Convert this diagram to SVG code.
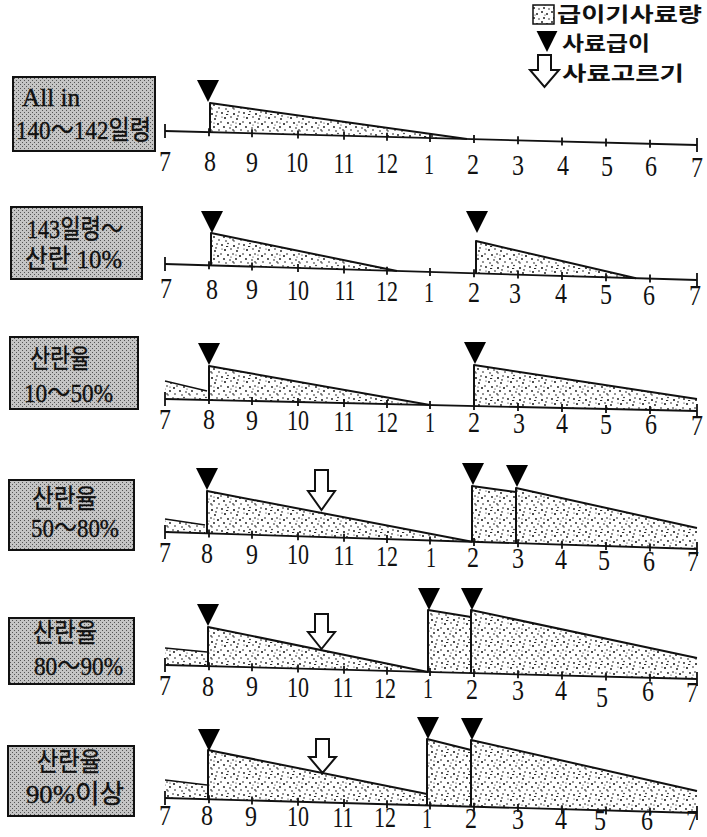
<svg xmlns="http://www.w3.org/2000/svg" width="707" height="837" viewBox="0 0 707 837">
<defs>
<pattern id="stip" width="22" height="22" patternUnits="userSpaceOnUse">
<rect width="22" height="22" fill="#fff"/>
<g fill="#111">
<circle cx="2" cy="3" r="0.9"/><circle cx="8" cy="1.5" r="0.8"/><circle cx="14" cy="4" r="1"/><circle cx="19" cy="2" r="0.8"/>
<circle cx="5" cy="8" r="1"/><circle cx="11" cy="7" r="0.8"/><circle cx="17" cy="9" r="0.9"/><circle cx="1" cy="12" r="0.8"/>
<circle cx="8" cy="13" r="0.9"/><circle cx="13" cy="12" r="0.8"/><circle cx="20" cy="14" r="1"/><circle cx="4" cy="17" r="0.9"/>
<circle cx="10" cy="18" r="0.8"/><circle cx="16" cy="17" r="0.9"/><circle cx="21" cy="20" r="0.8"/><circle cx="6" cy="21" r="0.8"/>
<circle cx="14" cy="21" r="0.7"/><circle cx="2" cy="7" r="0.6"/><circle cx="16" cy="13" r="0.6"/><circle cx="11" cy="15" r="0.6"/>
<rect x="6" y="4" width="2.2" height="0.9"/><rect x="17" y="5.5" width="2" height="0.9"/><rect x="12" y="19.5" width="2" height="0.9"/>
</g>
</pattern>
<pattern id="stipD" width="10" height="10" patternUnits="userSpaceOnUse">
<rect width="10" height="10" fill="#fff"/>
<g fill="#222"><circle cx="2" cy="2" r="1"/><circle cx="7" cy="4" r="1"/><circle cx="4" cy="8" r="1"/><circle cx="9" cy="9" r="0.8"/><circle cx="5" cy="5" r="0.6"/></g>
</pattern>
<pattern id="half" width="4" height="4" patternUnits="userSpaceOnUse">
<rect width="4" height="4" fill="#c4c4c4"/>
<rect x="0" y="0" width="1" height="1" fill="#555"/><rect x="2" y="2" width="1" height="1" fill="#555"/>
</pattern>
<polygon id="tri" points="-11,0 11,0 0,22" fill="#000"/>
</defs>
<style>
.box{fill:url(#half);stroke:#111;stroke-width:2}
.bt{font-family:"Liberation Serif","Noto Sans CJK KR",serif;font-size:26px;fill:#111;stroke:#111;stroke-width:0.4}
.n{font-family:"Liberation Serif",serif;font-size:30px;fill:#111;text-anchor:middle}
.lg{font-family:"Noto Sans CJK KR","Noto Sans",sans-serif;font-size:20px;font-weight:bold;fill:#111}
.ax{stroke:#111;stroke-width:1.8;fill:none}
.tk{stroke:#111;stroke-width:1.8}
.fl{fill:url(#stip);stroke:none}
.ol{fill:none;stroke:#111;stroke-width:2;stroke-linejoin:round}
.ol1{fill:none;stroke:#111;stroke-width:1.4}
.arr{fill:#fff;stroke:#111;stroke-width:2;stroke-linejoin:miter}
</style>

<g id="legend">
<rect x="533" y="5" width="21" height="19" fill="url(#stipD)" stroke="#111" stroke-width="1.5"/>
<text class="lg" x="557" y="22" textLength="145" lengthAdjust="spacingAndGlyphs">급이기사료량</text>
<use href="#tri" transform="translate(547,31) scale(0.95)"/>
<text class="lg" x="562" y="51" textLength="88" lengthAdjust="spacingAndGlyphs">사료급이</text>
<path class="arr" d="M538,55 H551 V70 H559 L544.5,87 L530,70 H538 Z"/>
<text class="lg" x="562" y="81" textLength="122" lengthAdjust="spacingAndGlyphs">사료고르기</text>
</g>

<!-- Row 1 -->
<g id="label1">
<rect class="box" x="13" y="77" width="142" height="74"/>
<text class="bt" x="22" y="106" textLength="58" lengthAdjust="spacingAndGlyphs">All in</text>
<text class="bt" x="16" y="139" textLength="135" lengthAdjust="spacingAndGlyphs">140～142일령</text>
</g>
<g id="chart1">
<polygon class="fl" points="210,132.2 210,103 467,139"/>
<polyline class="ol" points="210,132.2 210,103 467,139"/>
<use href="#tri" transform="translate(208,80)"/>
</g>

<!-- Row 2 -->
<g id="label2">
<rect class="box" x="11" y="207" width="131" height="72"/>
<text class="bt" x="27" y="238" textLength="96" lengthAdjust="spacingAndGlyphs">143일령～</text>
<text class="bt" x="25" y="268" textLength="97" lengthAdjust="spacingAndGlyphs">산란 10%</text>
</g>
<g id="chart2">
<polygon class="fl" points="211,265.4 211,233 397,271"/>
<polyline class="ol" points="211,265.4 211,233 397,271"/>
<polygon class="fl" points="476,273.4 476,241 636,278.2"/>
<polyline class="ol" points="476,273.4 476,241 636,278.2"/>
<use href="#tri" transform="translate(212,211)"/>
<use href="#tri" transform="translate(477,211)"/>
</g>

<!-- Row 3 -->
<g id="label3">
<rect class="box" x="10" y="337" width="128" height="72"/>
<text class="bt" x="30" y="368" textLength="60" lengthAdjust="spacingAndGlyphs">산란율</text>
<text class="bt" x="24" y="402" textLength="89" lengthAdjust="spacingAndGlyphs">10～50%</text>
</g>
<g id="chart3">
<polygon class="fl" points="165,399 165,381 207,391 207,400"/>
<polyline class="ol1" points="165,381 207,391"/>
<polygon class="fl" points="209,400 209,366 430,405"/>
<polyline class="ol" points="209,400 209,366 430,405"/>
<polygon class="fl" points="474,406 474,365 697,399 697,411"/>
<polyline class="ol" points="474,406 474,365 697,399"/>
<use href="#tri" transform="translate(209,343)"/>
<use href="#tri" transform="translate(475,342)"/>
</g>

<!-- Row 4 -->
<g id="label4">
<rect class="box" x="9" y="480" width="125" height="70"/>
<text class="bt" x="32" y="508" textLength="65" lengthAdjust="spacingAndGlyphs">산란율</text>
<text class="bt" x="31" y="537" textLength="88" lengthAdjust="spacingAndGlyphs">50～80%</text>
</g>
<g id="chart4">
<polygon class="fl" points="165,532 165,519 205,525 205,533.3"/>
<polyline class="ol1" points="165,519 205,525"/>
<polygon class="fl" points="207,533.3 207,491 472,541.8"/>
<polygon class="fl" points="472,541.8 472,486 516,492 516,543.2"/>
<polygon class="fl" points="516,543.2 516,488 697,528 697,549"/>
<polyline class="ol" points="207,533.3 207,491 472,541.8"/>
<polyline class="ol" points="472,541.8 472,486 516,492"/>
<polyline class="ol" points="516,543.2 516,488 697,528"/>
<use href="#tri" transform="translate(207,468)"/>
<use href="#tri" transform="translate(473,463)"/>
<use href="#tri" transform="translate(517,465)"/>
<path class="arr" d="M315,470 H328 V491 H335 L321.5,510 L308,491 H315 Z"/>
</g>

<!-- Row 5 -->
<g id="label5">
<rect class="box" x="9" y="618" width="125" height="66"/>
<text class="bt" x="33" y="642" textLength="64" lengthAdjust="spacingAndGlyphs">산란율</text>
<text class="bt" x="34" y="675" textLength="89" lengthAdjust="spacingAndGlyphs">80～90%</text>
</g>
<g id="chart5">
<polygon class="fl" points="165,665 165,648 207,652 207,666.1"/>
<polyline class="ol1" points="165,648 207,652"/>
<polygon class="fl" points="208,666.1 208,627 428,671.9"/>
<polygon class="fl" points="428,671.9 428,610 471,617 471,673"/>
<polygon class="fl" points="471,673 471,610 697,658 697,679"/>
<polyline class="ol" points="208,666.1 208,627 428,671.9"/>
<polyline class="ol" points="428,671.9 428,610 471,617"/>
<polyline class="ol" points="471,673 471,610 697,658"/>
<use href="#tri" transform="translate(208,604)"/>
<use href="#tri" transform="translate(429,588)"/>
<use href="#tri" transform="translate(472,588)"/>
<path class="arr" d="M315,614 H328 V632 H335 L321.5,649 L308,632 H315 Z"/>
</g>

<!-- Row 6 -->
<g id="label6">
<rect class="box" x="8" y="746" width="126" height="70"/>
<text class="bt" x="37" y="771" textLength="64" lengthAdjust="spacingAndGlyphs">산란율</text>
<text class="bt" x="26" y="803" textLength="98" lengthAdjust="spacingAndGlyphs">90%이상</text>
</g>
<g id="chart6">
<polygon class="fl" points="165,798 165,780 207,785 207,799.2"/>
<polyline class="ol1" points="165,780 207,785"/>
<polygon class="fl" points="208,799.2 208,750 427,794 427,805.4"/>
<polygon class="fl" points="427,805.4 427,739 471,750 471,806.6"/>
<polygon class="fl" points="471,806.6 471,740 697,791 697,813"/>
<polyline class="ol" points="208,799.2 208,750 427,794"/>
<polyline class="ol" points="427,805.4 427,739 471,750"/>
<polyline class="ol" points="471,806.6 471,740 697,791"/>
<use href="#tri" transform="translate(209,729)"/>
<use href="#tri" transform="translate(428,717)"/>
<use href="#tri" transform="translate(472,718)"/>
<path class="arr" d="M316,739 H329 V757 H336 L322.5,773 L309,757 H316 Z"/>
</g>

<g id="axes">
<line class="ax" x1="165" y1="131" x2="697" y2="145"/>
<line class="tk" x1="165" y1="124" x2="165" y2="138"/><line class="tk" x1="697" y1="138" x2="697" y2="152"/>
<path class="tk" d="M209,128.2v8 M252,129.3v8 M298,130.5v8 M344,131.7v8 M387,132.8v8 M430,134v8 M474,135.1v8 M518,136.3v8 M562,137.5v8 M606,138.6v8 M650,139.8v8"/>
<line class="ax" x1="165" y1="264" x2="697" y2="280"/>
<line class="tk" x1="165" y1="257" x2="165" y2="271"/><line class="tk" x1="697" y1="273" x2="697" y2="287"/>
<path class="tk" d="M209,261.3v8 M252,262.6v8 M298,264v8 M344,265.4v8 M387,266.7v8 M430,268v8 M474,269.3v8 M518,270.6v8 M562,271.9v8 M606,273.3v8 M650,274.6v8"/>
<line class="ax" x1="165" y1="399" x2="697" y2="411"/>
<line class="tk" x1="165" y1="392" x2="165" y2="406"/><line class="tk" x1="697" y1="404" x2="697" y2="418"/>
<path class="tk" d="M209,396v8 M252,397v8 M298,398v8 M344,399v8 M387,400v8 M430,401v8 M474,402v8 M518,403v8 M562,404v8 M606,405v8 M650,406v8"/>
<line class="ax" x1="165" y1="532" x2="697" y2="549"/>
<line class="tk" x1="165" y1="525" x2="165" y2="539"/><line class="tk" x1="697" y1="542" x2="697" y2="556"/>
<path class="tk" d="M209,529.4v8 M252,530.8v8 M298,532.3v8 M344,533.7v8 M387,535.1v8 M430,536.5v8 M474,537.9v8 M518,539.3v8 M562,540.7v8 M606,542.1v8 M650,543.5v8"/>
<line class="ax" x1="165" y1="665" x2="697" y2="679"/>
<line class="tk" x1="165" y1="658" x2="165" y2="672"/><line class="tk" x1="697" y1="672" x2="697" y2="686"/>
<path class="tk" d="M209,662.2v8 M252,663.3v8 M298,664.5v8 M344,665.7v8 M387,666.8v8 M430,668v8 M474,669.1v8 M518,670.3v8 M562,671.5v8 M606,672.6v8 M650,673.8v8"/>
<line class="ax" x1="165" y1="798" x2="697" y2="813"/>
<line class="tk" x1="165" y1="791" x2="165" y2="805"/><line class="tk" x1="697" y1="806" x2="697" y2="820"/>
<path class="tk" d="M209,795.2v8 M252,796.5v8 M298,797.8v8 M344,799.1v8 M387,800.3v8 M430,801.5v8 M474,802.7v8 M518,804v8 M562,805.2v8 M606,806.4v8 M650,807.7v8"/>
</g>

<g id="ticklabels">
<g>
<text class="n" x="165" y="171" textLength="12" lengthAdjust="spacingAndGlyphs">7</text>
<text class="n" x="210" y="171" textLength="12" lengthAdjust="spacingAndGlyphs">8</text>
<text class="n" x="252" y="172" textLength="12" lengthAdjust="spacingAndGlyphs">9</text>
<text class="n" x="297" y="172" textLength="22" lengthAdjust="spacingAndGlyphs">10</text>
<text class="n" x="344" y="173" textLength="21" lengthAdjust="spacingAndGlyphs">11</text>
<text class="n" x="387" y="173" textLength="22" lengthAdjust="spacingAndGlyphs">12</text>
<text class="n" x="429" y="174" textLength="10" lengthAdjust="spacingAndGlyphs">1</text>
<text class="n" x="473" y="174" textLength="12" lengthAdjust="spacingAndGlyphs">2</text>
<text class="n" x="518" y="175" textLength="12" lengthAdjust="spacingAndGlyphs">3</text>
<text class="n" x="563" y="175" textLength="12" lengthAdjust="spacingAndGlyphs">4</text>
<text class="n" x="607" y="176" textLength="12" lengthAdjust="spacingAndGlyphs">5</text>
<text class="n" x="651" y="176" textLength="12" lengthAdjust="spacingAndGlyphs">6</text>
<text class="n" x="697" y="177" textLength="12" lengthAdjust="spacingAndGlyphs">7</text>
</g>
<g>
<text class="n" x="166" y="298" textLength="12" lengthAdjust="spacingAndGlyphs">7</text>
<text class="n" x="212" y="299" textLength="12" lengthAdjust="spacingAndGlyphs">8</text>
<text class="n" x="252" y="299" textLength="12" lengthAdjust="spacingAndGlyphs">9</text>
<text class="n" x="298" y="300" textLength="22" lengthAdjust="spacingAndGlyphs">10</text>
<text class="n" x="345" y="300" textLength="21" lengthAdjust="spacingAndGlyphs">11</text>
<text class="n" x="387" y="301" textLength="22" lengthAdjust="spacingAndGlyphs">12</text>
<text class="n" x="429" y="302" textLength="10" lengthAdjust="spacingAndGlyphs">1</text>
<text class="n" x="474" y="302" textLength="12" lengthAdjust="spacingAndGlyphs">2</text>
<text class="n" x="515" y="303" textLength="12" lengthAdjust="spacingAndGlyphs">3</text>
<text class="n" x="561" y="303" textLength="12" lengthAdjust="spacingAndGlyphs">4</text>
<text class="n" x="606" y="304" textLength="12" lengthAdjust="spacingAndGlyphs">5</text>
<text class="n" x="649" y="305" textLength="12" lengthAdjust="spacingAndGlyphs">6</text>
<text class="n" x="695" y="305" textLength="12" lengthAdjust="spacingAndGlyphs">7</text>
</g>
<g>
<text class="n" x="165" y="429" textLength="12" lengthAdjust="spacingAndGlyphs">7</text>
<text class="n" x="209" y="429" textLength="12" lengthAdjust="spacingAndGlyphs">8</text>
<text class="n" x="252" y="430" textLength="12" lengthAdjust="spacingAndGlyphs">9</text>
<text class="n" x="298" y="430" textLength="22" lengthAdjust="spacingAndGlyphs">10</text>
<text class="n" x="344" y="431" textLength="21" lengthAdjust="spacingAndGlyphs">11</text>
<text class="n" x="387" y="432" textLength="22" lengthAdjust="spacingAndGlyphs">12</text>
<text class="n" x="430" y="432" textLength="10" lengthAdjust="spacingAndGlyphs">1</text>
<text class="n" x="474" y="432" textLength="12" lengthAdjust="spacingAndGlyphs">2</text>
<text class="n" x="519" y="433" textLength="12" lengthAdjust="spacingAndGlyphs">3</text>
<text class="n" x="562" y="433" textLength="12" lengthAdjust="spacingAndGlyphs">4</text>
<text class="n" x="606" y="434" textLength="12" lengthAdjust="spacingAndGlyphs">5</text>
<text class="n" x="651" y="434" textLength="12" lengthAdjust="spacingAndGlyphs">6</text>
<text class="n" x="697" y="435" textLength="12" lengthAdjust="spacingAndGlyphs">7</text>
</g>
<g>
<text class="n" x="165" y="562" textLength="12" lengthAdjust="spacingAndGlyphs">7</text>
<text class="n" x="207" y="563" textLength="12" lengthAdjust="spacingAndGlyphs">8</text>
<text class="n" x="252" y="564" textLength="12" lengthAdjust="spacingAndGlyphs">9</text>
<text class="n" x="298" y="564" textLength="22" lengthAdjust="spacingAndGlyphs">10</text>
<text class="n" x="344" y="565" textLength="21" lengthAdjust="spacingAndGlyphs">11</text>
<text class="n" x="387" y="566" textLength="22" lengthAdjust="spacingAndGlyphs">12</text>
<text class="n" x="431" y="567" textLength="10" lengthAdjust="spacingAndGlyphs">1</text>
<text class="n" x="473" y="567" textLength="12" lengthAdjust="spacingAndGlyphs">2</text>
<text class="n" x="518" y="568" textLength="12" lengthAdjust="spacingAndGlyphs">3</text>
<text class="n" x="561" y="569" textLength="12" lengthAdjust="spacingAndGlyphs">4</text>
<text class="n" x="604" y="570" textLength="12" lengthAdjust="spacingAndGlyphs">5</text>
<text class="n" x="649" y="571" textLength="12" lengthAdjust="spacingAndGlyphs">6</text>
<text class="n" x="693" y="571" textLength="12" lengthAdjust="spacingAndGlyphs">7</text>
</g>
<g>
<text class="n" x="165" y="695" textLength="12" lengthAdjust="spacingAndGlyphs">7</text>
<text class="n" x="208" y="696" textLength="12" lengthAdjust="spacingAndGlyphs">8</text>
<text class="n" x="252" y="696" textLength="12" lengthAdjust="spacingAndGlyphs">9</text>
<text class="n" x="298" y="697" textLength="22" lengthAdjust="spacingAndGlyphs">10</text>
<text class="n" x="343" y="697" textLength="21" lengthAdjust="spacingAndGlyphs">11</text>
<text class="n" x="385" y="698" textLength="22" lengthAdjust="spacingAndGlyphs">12</text>
<text class="n" x="428" y="698" textLength="10" lengthAdjust="spacingAndGlyphs">1</text>
<text class="n" x="472" y="699" textLength="12" lengthAdjust="spacingAndGlyphs">2</text>
<text class="n" x="518" y="700" textLength="12" lengthAdjust="spacingAndGlyphs">3</text>
<text class="n" x="561" y="700" textLength="12" lengthAdjust="spacingAndGlyphs">4</text>
<text class="n" x="602" y="707" textLength="12" lengthAdjust="spacingAndGlyphs">5</text>
<text class="n" x="648" y="701" textLength="12" lengthAdjust="spacingAndGlyphs">6</text>
<text class="n" x="692" y="702" textLength="12" lengthAdjust="spacingAndGlyphs">7</text>
</g>
<g>
<text class="n" x="165" y="825" textLength="12" lengthAdjust="spacingAndGlyphs">7</text>
<text class="n" x="207" y="825" textLength="12" lengthAdjust="spacingAndGlyphs">8</text>
<text class="n" x="251" y="826" textLength="12" lengthAdjust="spacingAndGlyphs">9</text>
<text class="n" x="298" y="826" textLength="22" lengthAdjust="spacingAndGlyphs">10</text>
<text class="n" x="343" y="827" textLength="21" lengthAdjust="spacingAndGlyphs">11</text>
<text class="n" x="385" y="827" textLength="22" lengthAdjust="spacingAndGlyphs">12</text>
<text class="n" x="427" y="828" textLength="10" lengthAdjust="spacingAndGlyphs">1</text>
<text class="n" x="471" y="828" textLength="12" lengthAdjust="spacingAndGlyphs">2</text>
<text class="n" x="518" y="829" textLength="12" lengthAdjust="spacingAndGlyphs">3</text>
<text class="n" x="561" y="829" textLength="12" lengthAdjust="spacingAndGlyphs">4</text>
<text class="n" x="600" y="830" textLength="12" lengthAdjust="spacingAndGlyphs">5</text>
<text class="n" x="647" y="830" textLength="12" lengthAdjust="spacingAndGlyphs">6</text>
<text class="n" x="692" y="830" textLength="12" lengthAdjust="spacingAndGlyphs">7</text>
</g>
</g>
</svg>
